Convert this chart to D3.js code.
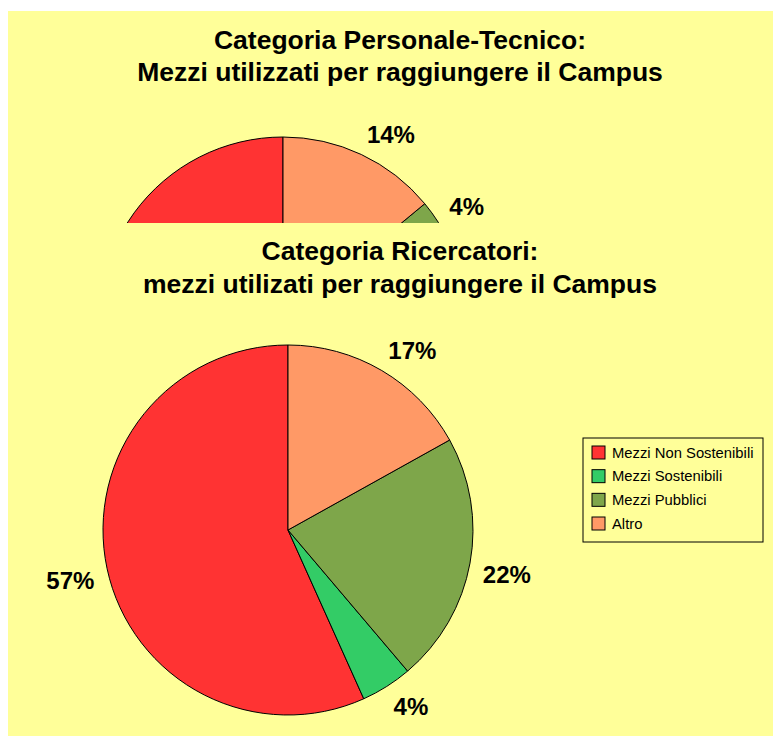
<!DOCTYPE html>
<html>
<head>
<meta charset="utf-8">
<script src="https://cdn.jsdelivr.net/npm/d3@7"></script>
<style>
  body { margin: 0; background: #ffffff; }
  svg { display: block; }
  text { font-family: "Liberation Sans", Arial, sans-serif; }
</style>
</head>
<body>
<svg width="773" height="736"></svg>
<script>
// categorie (stesso ordine della legenda)
var categories = ["Mezzi Non Sostenibili", "Mezzi Sostenibili", "Mezzi Pubblici", "Altro"];
var colors = ["#ff3333", "#33cc66", "#7ea64a", "#ff9966"];

// percentuali
var tecnicoValues = [60, 22, 4, 14];      // solo Pubblici e Altro sono visibili
var ricercatoriValues = [57, 4.5, 22, 17];
var ricercatoriLabels = [57, 4, 22, 17];
var tecnicoLabels = [60, 22, 4, 14];

var tecnicoTitle = ["Categoria Personale-Tecnico:", "Mezzi utilizzati per raggiungere il Campus"];
var ricercatoriTitle = ["Categoria Ricercatori:", "mezzi utilizati per raggiungere il Campus"];

var svg = d3.select("svg");
var bg = "#ffff99";

function drawPie(g, values, labels, cx, cy, r) {
  var pie = d3.pie().sort(null).startAngle(0).endAngle(-2 * Math.PI);
  var arc = d3.arc().innerRadius(0).outerRadius(r);
  var arcs = pie(values);

  var slices = g.append("g").attr("transform", "translate(" + cx + "," + cy + ")");
  slices.selectAll("path")
    .data(arcs)
    .enter().append("path")
      .attr("d", arc)
      .attr("fill", function(d, i) { return colors[i]; })
      .attr("stroke", "#000")
      .attr("stroke-width", 1);

  // etichette fuori dalla torta, angolo vicino appoggiato al cerchio
  var R = r + 13, capH = 17.5;
  arcs.forEach(function(d, i) {
    var a = (d.startAngle + d.endAngle) / 2;
    var s = Math.sin(a), c = Math.cos(a);
    var px = cx + R * s, py = cy - R * c;
    g.append("text")
      .text(labels[i] + "%")
      .attr("font-size", 24)
      .attr("font-weight", "bold")
      .attr("text-anchor", s >= 0 ? "start" : "end")
      .attr("x", px)
      .attr("y", c > 0 ? py : py + capH);
  });
}

function drawTitle(g, lines, x, y0, step) {
  lines.forEach(function(l, i) {
    g.append("text")
      .text(l)
      .attr("x", x)
      .attr("y", y0 + i * step)
      .attr("text-anchor", "middle")
      .attr("font-size", 26.5)
      .attr("font-weight", "bold");
  });
}

// grafico 1 (tagliato dal secondo)
svg.append("clipPath").attr("id", "clipTop")
  .append("rect").attr("x", 8).attr("y", 11).attr("width", 765).attr("height", 212);
var chartTop = svg.append("g").attr("clip-path", "url(#clipTop)");
chartTop.append("rect").attr("x", 8).attr("y", 11).attr("width", 765).attr("height", 212).attr("fill", bg);
drawTitle(chartTop, tecnicoTitle, 400, 49, 32);
drawPie(chartTop, tecnicoValues, tecnicoLabels, 283, 321, 184);

// grafico 2
var chartBottom = svg.append("g");
chartBottom.append("rect").attr("x", 8).attr("y", 223).attr("width", 765).attr("height", 513).attr("fill", bg);
drawTitle(chartBottom, ricercatoriTitle, 400, 260, 33);
drawPie(chartBottom, ricercatoriValues, ricercatoriLabels, 288, 530, 185);

// legenda
var legend = chartBottom.append("g").attr("transform", "translate(583,438)");
legend.append("rect")
  .attr("width", 180).attr("height", 104)
  .attr("fill", "none").attr("stroke", "#000").attr("stroke-width", 1);
var y = d3.scalePoint().domain(categories).range([14, 85]);
var item = legend.selectAll("g.item")
  .data(categories)
  .enter().append("g")
    .attr("class", "item")
    .attr("transform", function(d) { return "translate(9," + y(d) + ")"; });
item.append("rect")
  .attr("x", 0).attr("y", -6).attr("width", 13).attr("height", 13)
  .attr("fill", function(d, i) { return colors[i]; })
  .attr("stroke", "#000").attr("stroke-width", 1);
item.append("text")
  .text(function(d) { return d; })
  .attr("x", 20).attr("y", 5.5)
  .attr("font-size", 14.8);
</script>
</body>
</html>
